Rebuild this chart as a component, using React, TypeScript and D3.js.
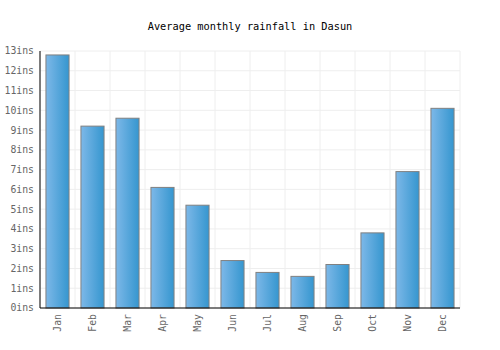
import React, { useEffect, useRef } from "react";
import * as d3 from "d3";

const months = ["Jan", "Feb", "Mar", "Apr", "May", "Jun", "Jul", "Aug", "Sep", "Oct", "Nov", "Dec"];
const rainfall = [12.8, 9.2, 9.6, 6.1, 5.2, 2.4, 1.8, 1.6, 2.2, 3.8, 6.9, 10.1];
const yTicks = [0, 1, 2, 3, 4, 5, 6, 7, 8, 9, 10, 11, 12, 13];

export default function App() {
  const svgRef = useRef<SVGSVGElement>(null);
  const width = 500;
  const height = 350;
  const margin = { top: 51, right: 40, bottom: 42, left: 40 };

  useEffect(() => {
    const svg = d3.select(svgRef.current);
    svg.selectAll("*").remove();
    const font = "'DejaVu Sans Mono', monospace";

    const x = d3
      .scaleBand()
      .domain(months)
      .range([margin.left, width - margin.right])
      .paddingInner(0.34)
      .paddingOuter(0.17);
    const y = d3
      .scaleLinear()
      .domain([0, 13])
      .range([height - margin.bottom, margin.top]);

    const grad = svg
      .append("defs")
      .append("linearGradient")
      .attr("id", "barGrad")
      .attr("x1", "0%")
      .attr("x2", "100%");
    grad.append("stop").attr("offset", "0%").attr("stop-color", "#7db8e8");
    grad.append("stop").attr("offset", "100%").attr("stop-color", "#3596cf");

    //Title
    svg
      .append("text")
      .attr("x", width / 2)
      .attr("y", 30)
      .attr("text-anchor", "middle")
      .attr("font-family", font)
      .attr("font-size", 10.3)
      .attr("fill", "#000")
      .text("Average monthly rainfall in Dasun");

    //Grid lines
    const step = x.step();
    const gridX = d3.range(months.length + 1).map((i) => margin.left + i * step);
    svg
      .append("g")
      .selectAll("line")
      .data(gridX)
      .join("line")
      .attr("x1", (d) => d)
      .attr("x2", (d) => d)
      .attr("y1", margin.top)
      .attr("y2", height - margin.bottom)
      .attr("stroke", "#eeeeee");
    svg
      .append("g")
      .selectAll("line")
      .data(yTicks)
      .join("line")
      .attr("x1", margin.left)
      .attr("x2", width - margin.right)
      .attr("y1", (d) => y(d))
      .attr("y2", (d) => y(d))
      .attr("stroke", "#eeeeee");

    //Bars
    svg
      .append("g")
      .selectAll("rect")
      .data(rainfall)
      .join("rect")
      .attr("x", (d, i) => x(months[i])!)
      .attr("y", (d) => y(d))
      .attr("width", x.bandwidth())
      .attr("height", (d) => y(0) - y(d))
      .attr("fill", "url(#barGrad)")
      .attr("stroke", "#808080")
      .attr("stroke-width", 1);

    //Y labels
    svg
      .append("g")
      .selectAll("text")
      .data(yTicks)
      .join("text")
      .attr("x", margin.left - 6)
      .attr("y", (d) => y(d))
      .attr("dy", "0.35em")
      .attr("text-anchor", "end")
      .attr("font-family", font)
      .attr("font-size", 9.8)
      .attr("fill", "#666")
      .text((d) => `${d}ins`);

    //X labels rotated
    svg
      .append("g")
      .selectAll("text")
      .data(months)
      .join("text")
      .attr("transform", (d) => `translate(${x(d)! + x.bandwidth() / 2}, ${height - margin.bottom + 6}) rotate(-90)`)
      .attr("dy", "0.35em")
      .attr("text-anchor", "end")
      .attr("font-family", font)
      .attr("font-size", 9.8)
      .attr("fill", "#666")
      .text((d) => d);

    //Axis lines
    svg
      .append("line")
      .attr("x1", margin.left)
      .attr("x2", margin.left)
      .attr("y1", margin.top)
      .attr("y2", height - margin.bottom)
      .attr("stroke", "#000");
    svg
      .append("line")
      .attr("x1", margin.left)
      .attr("x2", width - margin.right)
      .attr("y1", height - margin.bottom)
      .attr("y2", height - margin.bottom)
      .attr("stroke", "#000");
  }, []);

  return (
    <svg
      ref={svgRef}
      width={width}
      height={height}
      style={{ position: "absolute", left: 0, top: 0, background: "#fff" }}
    ></svg>
  );
}
